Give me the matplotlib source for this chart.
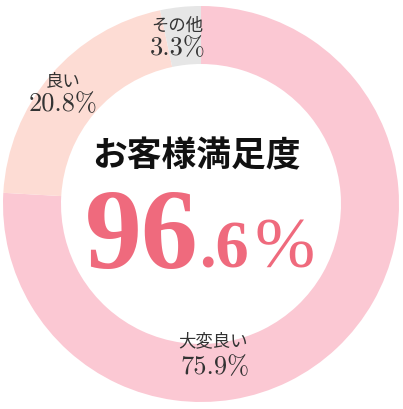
import matplotlib.pyplot as plt

# データ
categories = ['大変良い', '良い', 'その他']
values = [75.9, 20.8, 3.3]
colors = ['#fbc8d3', '#fddcd4', '#e6e6e6']
score_main = '96'
score_dec = '.6'

W, H = 403, 410

fig = plt.figure(figsize=(W / 100, H / 100), dpi=100)
ax = fig.add_axes([0, 0, 1, 1])
ax.pie(values, colors=colors, startangle=90, counterclock=False,
       center=(201, H - 205), radius=198, frame=True,
       wedgeprops=dict(width=58, linewidth=0))
ax.set_xlim(0, W)
ax.set_ylim(0, H)
ax.set_aspect('equal')
ax.axis('off')

jp = ['Noto Sans CJK JP', 'DejaVu Sans']
num = ['cmr10', 'DejaVu Serif']

# ラベル (テキスト位置はピクセル, 上が0)
label_pos = {'大変良い': (213, 341, 215, 367),
             '良い': (63, 82, 63, 104),
             'その他': (177, 26, 178, 48)}
for cat, v in zip(categories, values):
    lx, ly, nx, ny = label_pos[cat]
    ax.text(lx, H - ly, cat, ha='center', va='center', fontsize=12.5,
            family=jp, color='#333333')
    ax.text(nx, H - ny, f'{v}%', ha='center', va='center', fontsize=19,
            family=num, color='#333333')

# 中央テキスト
ax.text(196, H - 156, 'お客様満足度', ha='center', va='center', fontsize=25,
        family=jp, fontweight='bold', color='#111111')
ax.text(199, H - 268, score_main, ha='right', va='baseline', fontsize=82,
        family=['Liberation Serif'], fontweight='bold', color='#ef6a7d')
ax.text(199, H - 268, score_dec, ha='left', va='baseline', fontsize=48,
        family=['Liberation Serif'], fontweight='bold', color='#ef6a7d')
ax.text(285, H - 268, '%', ha='center', va='baseline', fontsize=52,
        family=['Liberation Serif'], color='#ef6a7d')

fig.savefig('out.png', dpi=100)
